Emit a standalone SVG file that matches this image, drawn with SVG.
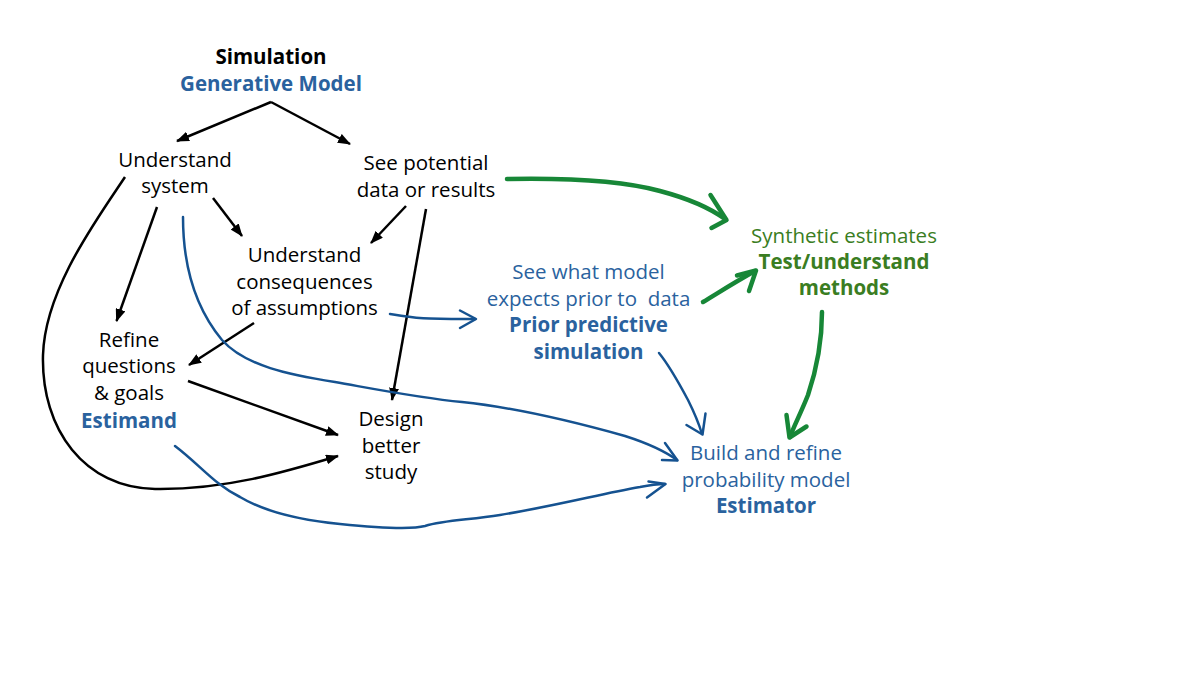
<svg xmlns="http://www.w3.org/2000/svg" width="1200" height="675" viewBox="0 0 1200 675">
<defs>
<style>
text{font-family:"Open Sans","Liberation Sans",sans-serif;font-size:20.5px;text-anchor:middle}
.b{font-weight:700}
.k{fill:#000}
.bl{fill:#2A629E}
.gr{fill:#3A7D22}
.lk{fill:none;stroke:#000;stroke-width:2.5}
.lb{fill:none;stroke:#155290;stroke-width:2.5;stroke-linecap:round;stroke-linejoin:round}
.lg{fill:none;stroke:#178737;stroke-width:4.5;stroke-linecap:round;stroke-linejoin:round}
</style>
<marker id="ah" markerUnits="userSpaceOnUse" markerWidth="13" markerHeight="10" refX="12" refY="5" orient="auto">
<path d="M0,0 L13,5 L0,10 z" fill="#000"/>
</marker>
</defs>
<rect width="1200" height="675" fill="#fff"/>
<g id="connectors">
<line class="lk" x1="271" y1="102" x2="177" y2="141" marker-end="url(#ah)"/>
<line class="lk" x1="271" y1="102" x2="350" y2="144" marker-end="url(#ah)"/>
<line class="lk" x1="213" y1="198" x2="242" y2="236" marker-end="url(#ah)"/>
<line class="lk" x1="406" y1="206" x2="371" y2="243" marker-end="url(#ah)"/>
<line class="lk" x1="426" y1="209" x2="392" y2="400" marker-end="url(#ah)"/>
<line class="lk" x1="157" y1="207" x2="116.5" y2="321" marker-end="url(#ah)"/>
<line class="lk" x1="254" y1="323" x2="189" y2="365" marker-end="url(#ah)"/>
<line class="lk" x1="188" y1="381" x2="338" y2="435" marker-end="url(#ah)"/>
<path class="lk" d="M125,177 C95,222 45,290 43,355 C41,430 85,488 155,489 C225,490 285,472 338,456" marker-end="url(#ah)"/>
<path class="lb" d="M183,217 C183,262 193,305 222,340 C245,366 290,375 335,382 C380,390 420,398 462,402 C520,408 575,422 625,436 C650,444 666,452 677,460"/>
<path class="lb" d="M665,443 L677.5,460.5 L662,460"/>
<path class="lb" d="M175,446 C200,465 215,485 240,497 C265,512 300,520 340,524 C380,528 410,530 425,526 C445,520 470,520 500,515 C560,505 600,494 640,487 C650,485 658,484 665,484"/>
<path class="lb" d="M648.5,481.5 L665.5,484 L647,497.5"/>
<path class="lb" d="M390,314 C405,316 412,318 430,318.5 C450,319 465,319 475,319"/>
<path class="lb" d="M460,310.5 L476,319 L460,328"/>
<path class="lb" d="M659,353 C668,364 680,385 688,400 C695,414 699,424 702,434"/>
<path class="lb" d="M686.5,425 L702.5,434.5 L705.5,413.5"/>
<path class="lg" d="M507,179 C560,178 620,180 660,191 C690,199 710,208 725,219"/>
<path class="lg" d="M710.5,195 L726.5,220 L711.5,228"/>
<path class="lg" d="M703,302 C718,293 735,282 755,271"/>
<path class="lg" d="M737,275.5 L756,270.5 L749,291"/>
<path class="lg" d="M822,312 C822,340 818,365 808,395 C800,415 793,428 790,437"/>
<path class="lg" d="M786.5,415 L789.5,437.5 L806.5,426.5"/>
</g>
<g id="node-simulation">
<text class="b k" x="271" y="64">Simulation</text>
<text class="b bl" x="271" y="90.5">Generative Model</text>
</g>
<g id="node-understand-system">
<text class="k" x="175" y="166.5">Understand</text>
<text class="k" x="175" y="193">system</text>
</g>
<g id="node-see-potential">
<text class="k" x="426" y="170">See potential</text>
<text class="k" x="426" y="196.5">data or results</text>
</g>
<g id="node-consequences">
<text class="k" x="304.5" y="262">Understand</text>
<text class="k" x="304.5" y="288.5">consequences</text>
<text class="k" x="304.5" y="315">of assumptions</text>
</g>
<g id="node-refine">
<text class="k" x="129" y="346.5">Refine</text>
<text class="k" x="129" y="373">questions</text>
<text class="k" x="129" y="400">&amp; goals</text>
<text class="b bl" x="129" y="427.5">Estimand</text>
</g>
<g id="node-design">
<text class="k" x="391" y="425.5">Design</text>
<text class="k" x="391" y="452.5">better</text>
<text class="k" x="391" y="478.5">study</text>
</g>
<g id="node-prior">
<text class="bl" x="588.5" y="279" xml:space="preserve">See what model</text>
<text class="bl" x="588.5" y="305.5" xml:space="preserve">expects prior to  data</text>
<text class="b bl" x="588.5" y="332">Prior predictive</text>
<text class="b bl" x="588.5" y="358.5">simulation</text>
</g>
<g id="node-synthetic">
<text class="gr" x="844" y="242.5">Synthetic estimates</text>
<text class="b gr" x="844" y="268.5">Test/understand</text>
<text class="b gr" x="844" y="294.5">methods</text>
</g>
<g id="node-estimator">
<text class="bl" x="766" y="460">Build and refine</text>
<text class="bl" x="766" y="486.5">probability model</text>
<text class="b bl" x="766" y="512.5">Estimator</text>
</g>
</svg>
